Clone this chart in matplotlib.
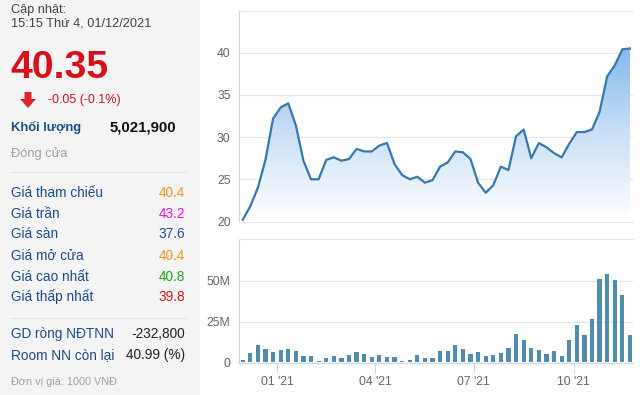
import numpy as np
import pandas as pd
import matplotlib
matplotlib.use("Agg")
import matplotlib.pyplot as plt
import matplotlib.dates as mdates
from matplotlib.patches import Rectangle, Polygon
from matplotlib.colors import LinearSegmentedColormap

plt.rcParams['font.family'] = ['Liberation Sans', 'DejaVu Sans']

# ---------------- data ----------------
start_date = "2020-11-30"
prices = [20.2, 21.8, 24.0, 27.3, 32.2, 33.5, 34.0, 31.4, 27.2, 25.0,
          25.0, 27.3, 27.6, 27.2, 27.4, 28.6, 28.3, 28.3, 29.0, 29.3,
          26.8, 25.5, 25.0, 25.3, 24.6, 24.9, 26.5, 27.0, 28.3, 28.2,
          27.4, 24.6, 23.4, 24.3, 26.5, 26.1, 30.1, 30.9, 27.5, 29.3,
          28.8, 28.1, 27.6, 29.2, 30.6, 30.6, 30.9, 33.0, 37.2, 38.5,
          40.4, 40.5]
volumes_m = [1.4, 6.0, 10.8, 8.4, 6.6, 7.8, 8.4, 7.2, 3.6, 3.6,
             0.8, 2.6, 3.6, 2.6, 4.2, 6.6, 5.0, 3.2, 4.2, 3.0,
             3.0, 0.8, 1.4, 4.2, 2.6, 2.6, 7.2, 7.2, 10.8, 8.4,
             5.4, 6.6, 3.6, 4.2, 6.0, 9.0, 17.4, 13.8, 9.0, 7.8,
             5.4, 7.2, 3.6, 13.8, 22.8, 16.8, 26.4, 51.0, 54.0, 50.4,
             41.4, 16.8]
price_ticks = [20, 25, 30, 35, 40]
volume_ticks = [0, 25, 50]
volume_tick_labels = ["0", "25M", "50M"]
month_ticks = ["2021-01-01", "2021-04-01", "2021-07-01", "2021-10-01"]

info_labels = ["Giá tham chiếu", "Giá trần", "Giá sàn", "Giá mở cửa", "Giá cao nhất", "Giá thấp nhất"]
info_values = ["40.4", "43.2", "37.6", "40.4", "40.8", "39.8"]
info_colors = ["#f7931e", "#ee10ee", "#1f4f8f", "#f7931e", "#1aa51a", "#e2141c"]

# ---------------- figure ----------------
W, H = 640, 395
fig = plt.figure(figsize=(W / 100, H / 100), dpi=100)
fig.patch.set_facecolor("white")

bg = fig.add_axes([0, 0, 1, 1], zorder=0)
bg.set_xlim(0, W)
bg.set_ylim(H, 0)
bg.axis("off")
bg.add_patch(Rectangle((0, 0), 200, H, color="#f4f4f4", lw=0))

label_c = "#1d4c8c"
fs = 9.8
bg.text(11, 10, "Cập nhật:", fontsize=9.2, color="#444444", va="center")
bg.text(11, 23, "15:15 Thứ 4, 01/12/2021", fontsize=9.2, color="#444444", va="center")
bg.text(10, 68, "40.35", fontsize=28.3, fontweight="bold", color="#d9101a", va="center")
# down arrow
bg.add_patch(Polygon([[24.5, 92], [31.5, 92], [31.5, 99], [36, 99], [28, 108], [20, 99], [24.5, 99]],
                     closed=True, color="#e0262b", lw=0))
bg.text(48, 100, "-0.05 (-0.1%)", fontsize=9, color="#d9101a", va="center")
bg.text(11, 127, "Khối lượng", fontsize=9.4, color=label_c, va="center", fontweight="bold")
bg.text(176, 127, "5,021,900", fontsize=10.8, color="#111111", va="center", ha="right", fontweight="bold")
bg.text(11, 154, "Đóng cửa", fontsize=9.3, color="#a0a0a0", va="center")
bg.plot([11, 186], [172, 172], color="#e4e4e4", lw=0.8)

row_y = [193, 214, 234, 256, 277, 297]
for lab, val, col, y in zip(info_labels, info_values, info_colors, row_y):
    bg.text(11, y, lab, fontsize=fs, color=label_c, va="center")
    bg.text(185, y, val, fontsize=fs, color=col, va="center", ha="right")
bg.plot([11, 186], [318, 318], color="#e4e4e4", lw=0.8)
bg.text(11, 334, "GD ròng NĐTNN", fontsize=fs, color=label_c, va="center")
bg.text(185, 334, "-232,800", fontsize=fs, color="#222222", va="center", ha="right")
bg.text(11, 355, "Room NN còn lại", fontsize=fs, color=label_c, va="center")
bg.text(185, 355, "40.99 (%)", fontsize=fs, color="#222222", va="center", ha="right")
bg.text(11, 382, "Đơn vị giá: 1000 VNĐ", fontsize=7.8, color="#a0a0a0", va="center")

# ---------------- chart data ----------------
dates = pd.date_range(start_date, periods=len(prices), freq="7D")
x = mdates.date2num(dates)
xmin = x[0] - 3.4
xmax = x[-1] + 2.8

axis_c = "#ccd6eb"
grid_c = "#e6e6e6"
tick_c = "#666666"
tfs = 8.8

# price axes
left = 239 / W
width = (633 - 239) / W
axp = fig.add_axes([left, 1 - 221.5 / H, width, (221.5 - 10.5) / H], zorder=1)
axp.set_facecolor("none")
axp.set_xlim(xmin, xmax)
axp.set_ylim(20, 45)
axp.set_yticks(price_ticks)
axp.set_yticklabels([str(t) for t in price_ticks])
for v in price_ticks[1:] + [45]:
    axp.axhline(v, color=grid_c, lw=0.9, zorder=0)
for s in ["top", "right"]:
    axp.spines[s].set_visible(False)
axp.spines["left"].set_color(axis_c)
axp.spines["bottom"].set_color(grid_c)
axp.tick_params(axis="y", length=0, labelsize=tfs, labelcolor=tick_c, pad=6)
axp.tick_params(axis="x", length=0, labelbottom=False)

# gradient fill
grad = np.linspace(0, 1, 256).reshape(-1, 1)
cmap = LinearSegmentedColormap.from_list("g", ["#ffffff", "#c8def5", "#7cb4ea"])
im = axp.imshow(grad, extent=[xmin, xmax, 20, 41.5], origin="lower", aspect="auto",
                cmap=cmap, zorder=1)
verts = np.vstack([np.column_stack([x, prices]), [[x[-1], 20], [x[0], 20]]])
clip = Polygon(verts, closed=True, transform=axp.transData, facecolor="none", edgecolor="none")
axp.add_patch(clip)
im.set_clip_path(clip)
axp.plot(x, prices, color="#3677b0", lw=1.6, zorder=3, solid_joinstyle="round")

# volume axes
axv = fig.add_axes([left, 1 - 363.3 / H, width, (363.3 - 239) / H], zorder=1)
axv.set_facecolor("none")
axv.set_xlim(xmin, xmax)
axv.set_ylim(-0.6, 75.7)
axv.bar(x, volumes_m, width=3.9, color="#4e8db0", zorder=2)
axv.set_yticks(volume_ticks)
axv.set_yticklabels(volume_tick_labels)
for v in volume_ticks[1:]:
    axv.axhline(v, color=grid_c, lw=0.9, zorder=0)
axv.spines["right"].set_visible(False)
axv.spines["top"].set_color(grid_c)
axv.spines["left"].set_color(axis_c)
axv.spines["bottom"].set_color(axis_c)
axv.tick_params(axis="y", length=0, labelsize=tfs, labelcolor=tick_c, pad=6)
mt = mdates.date2num(pd.to_datetime(month_ticks))
axv.set_xticks(mt)
axv.xaxis.set_major_formatter(mdates.DateFormatter("%m '%y"))
axv.tick_params(axis="x", length=7, color=axis_c, labelsize=tfs, labelcolor=tick_c, pad=2)

fig.savefig("out.png", dpi=100)
